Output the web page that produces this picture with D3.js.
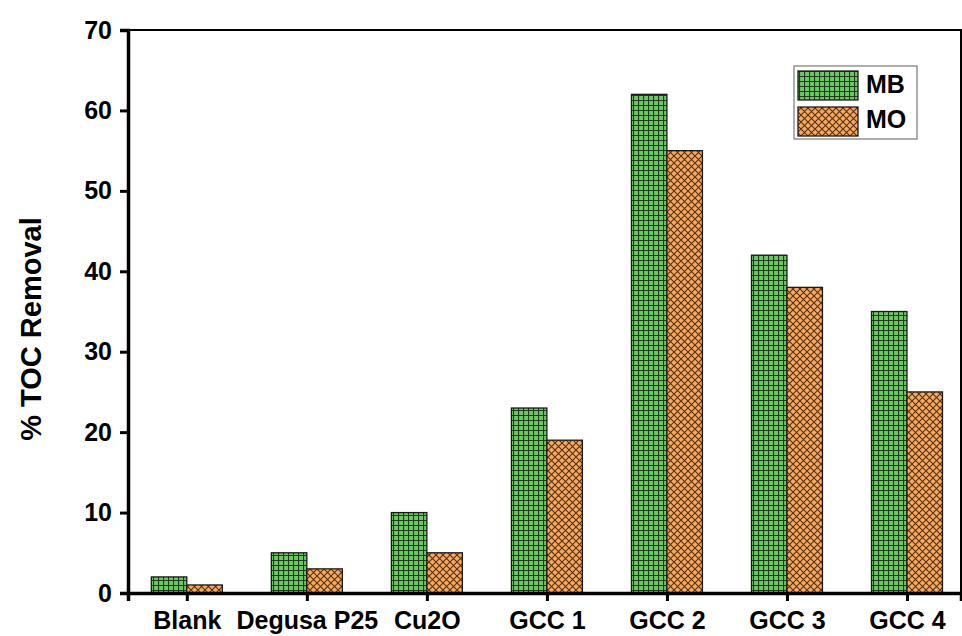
<!DOCTYPE html>
<html>
<head>
<meta charset="utf-8">
<script src="https://cdn.jsdelivr.net/npm/d3@7"></script>
<style>
  html, body { margin: 0; padding: 0; background: #fff; }
  svg { display: block; font-family: "Liberation Sans", Arial, sans-serif; }
</style>
</head>
<body>
<svg id="chart" width="962" height="636"></svg>
<script>
// Catalysts and TOC removal (%) for methylene blue (MB) and methyl orange (MO)
const categories = ["Blank", "Degusa P25", "Cu2O", "GCC 1", "GCC 2", "GCC 3", "GCC 4"];
const seriesNames = ["MB", "MO"];
const mbValues = [2, 5, 10, 23, 62, 42, 35];
const moValues = [1, 3, 5, 19, 55, 38, 25];
const yTicks = [0, 10, 20, 30, 40, 50, 60, 70];

const svg = d3.select("#chart");
const W = 962, H = 636;
const margin = { left: 128, right: 1, top: 30, bottom: 43 };
const plotW = W - margin.left - margin.right;
const plotH = H - margin.top - margin.bottom;
const FONT = "Liberation Sans, Arial, sans-serif";

const defs = svg.append("defs");
// Square grid fill for MB
const pg = defs.append("pattern").attr("id", "grid").attr("patternUnits", "userSpaceOnUse")
  .attr("width", 5).attr("height", 5);
pg.append("rect").attr("width", 5).attr("height", 5).attr("fill", "#6cc862");
pg.append("path").attr("d", "M0,0.5H5M0.5,0V5").attr("stroke", "#203a1c").attr("stroke-width", 1.2).attr("fill", "none");
// Diagonal cross-hatch fill for MO
const ph = defs.append("pattern").attr("id", "hatch").attr("patternUnits", "userSpaceOnUse")
  .attr("width", 7).attr("height", 7);
ph.append("rect").attr("width", 7).attr("height", 7).attr("fill", "#f7a95c");
ph.append("path").attr("d", "M-1,-1L8,8M-1,8L8,-1").attr("stroke", "#553010").attr("stroke-width", 1.1).attr("fill", "none");

const g = svg.append("g").attr("transform", `translate(${margin.left},${margin.top})`);

const x = d3.scaleLinear().domain([-0.49, 6.45]).range([0, plotW]);
const y = d3.scaleLinear().domain([0, 70]).range([plotH, 0]);
const barW = 35.5;

const fills = ["url(#grid)", "url(#hatch)"];
const data = categories.map((c, i) => ({ c, i, vals: [mbValues[i], moValues[i]] }));

data.forEach(d => {
  d.vals.forEach((v, s) => {
    const x0 = s === 0 ? x(d.i) - barW : x(d.i);
    g.append("rect")
      .attr("x", x0).attr("y", y(v))
      .attr("width", barW).attr("height", y(0) - y(v))
      .attr("fill", fills[s])
      .attr("stroke", "#1a1a1a").attr("stroke-width", 1.3);
  });
});

// Frame
g.append("rect").attr("x", 0).attr("y", 0).attr("width", plotW).attr("height", plotH)
  .attr("fill", "none").attr("stroke", "#000").attr("stroke-width", 2);

// Y axis
const yAxis = g.append("g").call(d3.axisLeft(y).tickValues(yTicks).tickSize(8).tickPadding(8));
yAxis.select(".domain").attr("stroke-width", 3.5);
yAxis.selectAll(".tick line").attr("stroke-width", 3);
yAxis.selectAll("text").attr("font-size", 25).attr("font-weight", "bold").attr("fill", "#000")
  .attr("font-family", FONT);

// X axis
const xAxis = g.append("g").attr("transform", `translate(0,${plotH})`)
  .call(d3.axisBottom(x).tickValues(d3.range(categories.length)).tickFormat(i => categories[i]).tickSize(8).tickPadding(10));
xAxis.select(".domain").attr("stroke-width", 3.5);
xAxis.selectAll(".tick line").attr("stroke-width", 3);
xAxis.selectAll("text").attr("font-size", 25).attr("font-weight", "bold").attr("fill", "#000")
  .attr("font-family", FONT);

// Y axis title
svg.append("text")
  .attr("transform", "translate(41,329) rotate(-90)")
  .attr("text-anchor", "middle")
  .attr("font-family", FONT)
  .attr("font-size", 29).attr("font-weight", "bold")
  .text("% TOC Removal");

// Legend
const leg = svg.append("g").attr("transform", "translate(794,66)");
leg.append("rect").attr("width", 123).attr("height", 73).attr("fill", "#fff")
  .attr("stroke", "#777").attr("stroke-width", 1.2);
seriesNames.forEach((n, s) => {
  leg.append("rect").attr("x", 4).attr("y", 5 + s * 36).attr("width", 60).attr("height", 29)
    .attr("fill", fills[s]).attr("stroke", "#1a1a1a").attr("stroke-width", 1.3);
  leg.append("text").attr("x", 72).attr("y", 27 + s * 35)
    .attr("font-family", FONT)
    .attr("font-size", 25).attr("font-weight", "bold").text(n);
});
</script>
</body>
</html>
